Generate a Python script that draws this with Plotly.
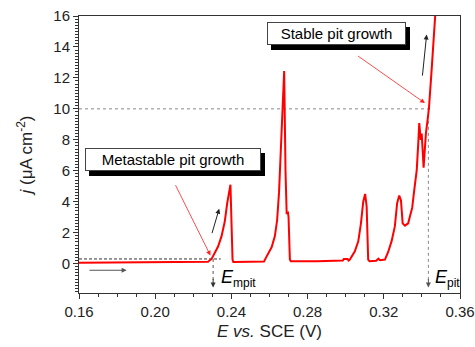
import plotly.graph_objects as go

# ---- data ----
E_V = [0.160, 0.180, 0.200, 0.220, 0.2277, 0.2296, 0.2313, 0.2330, 0.2348, 0.2365,
       0.2378, 0.2386, 0.2395, 0.2406, 0.2410, 0.2500, 0.2571, 0.2581, 0.2611, 0.2628,
       0.2640, 0.2650, 0.2660, 0.2677, 0.2684, 0.2690, 0.2697, 0.2700, 0.2707, 0.2712,
       0.2850, 0.2985, 0.2990, 0.3010, 0.3015, 0.3022, 0.3048, 0.3066, 0.3080, 0.3092,
       0.3102, 0.3110, 0.3118, 0.3125, 0.3160, 0.3172, 0.3180, 0.3206, 0.3223, 0.3241,
       0.3258, 0.3270, 0.3281, 0.3290, 0.3299, 0.3311, 0.3322, 0.3328, 0.3337, 0.3349,
       0.3360, 0.3373, 0.3381, 0.3386, 0.3394, 0.3399, 0.3409, 0.3421, 0.3430, 0.3437,
       0.3451, 0.3469, 0.3475]
j_uA = [0.05, 0.06, 0.07, 0.08, 0.12, 0.30, 0.69, 1.10, 1.76, 2.70,
        3.90, 4.56, 5.10, 0.26, 0.10, 0.12, 0.13, 0.37, 1.05, 1.76,
        2.80, 4.60, 7.50, 12.45, 6.00, 3.27, 3.30, 3.00, 0.26, 0.15,
        0.15, 0.20, 0.30, 0.30, 0.20, 0.26, 0.80, 1.44, 2.60, 4.00,
        4.50, 3.70, 0.26, 0.15, 0.18, 0.32, 0.22, 0.26, 0.75, 1.45,
        2.40, 3.90, 4.40, 4.10, 2.60, 2.45, 2.55, 2.60, 3.05, 3.60,
        4.77, 6.06, 7.80, 9.08, 8.00, 8.40, 6.20, 8.40, 9.30, 10.05,
        12.50, 16.06, 17.0]

E_mpit, j_mpit = 0.2304, 0.3
E_pit, j_pit = 0.3434, 10.0

x_tickvals = [0.16, 0.20, 0.24, 0.28, 0.32, 0.36]
x_ticktext = ["0.16", "0.20", "0.24", "0.28", "0.32", "0.36"]
y_tickvals = [0, 2, 4, 6, 8, 10, 12, 14, 16]
y_ticktext = ["0", "2", "4", "6", "8", "10", "12", "14", "16"]

FONT = "Liberation Sans, Arial, sans-serif"

fig = go.Figure()

# reference lines
fig.add_trace(go.Scatter(x=[0.16, E_mpit + 0.004], y=[j_mpit, j_mpit], mode="lines",
                         line=dict(color="#333333", width=1, dash="3px,2px"), hoverinfo="skip"))
fig.add_trace(go.Scatter(x=[E_mpit, E_mpit], y=[j_mpit, -1.45], mode="lines",
                         line=dict(color="#555555", width=1, dash="dot"), hoverinfo="skip"))
fig.add_trace(go.Scatter(x=[0.16, E_pit + 0.0024], y=[j_pit, j_pit], mode="lines",
                         line=dict(color="#888888", width=1, dash="dot"), hoverinfo="skip"))
fig.add_trace(go.Scatter(x=[E_pit, E_pit], y=[j_pit, -1.35], mode="lines",
                         line=dict(color="#888888", width=1, dash="dot"), hoverinfo="skip"))

# main curve
fig.add_trace(go.Scatter(x=E_V, y=j_uA, mode="lines",
                         line=dict(color="#ff0000", width=2), hoverinfo="skip"))

ann = []
# arrowheads at the bottom of the vertical dotted lines
for ex, col in [(E_mpit, "#333333"), (E_pit, "#555555")]:
    ann.append(dict(x=ex, y=-1.55, ax=ex, ay=-0.9, xref="x", yref="y", axref="x", ayref="y",
                    showarrow=True, arrowhead=2, arrowsize=1, arrowwidth=1, arrowcolor=col,
                    text="", standoff=0))
# black direction arrows
for (x0, y0, x1, y1, col) in [(0.1647, -0.43, 0.1850, -0.43, "#555555"),
                              (0.2296, 1.87, 0.2336, 3.55, "#222222"),
                              (0.3402, 12.05, 0.3425, 14.8, "#222222")]:
    ann.append(dict(x=x1, y=y1, ax=x0, ay=y0, xref="x", yref="y", axref="x", ayref="y",
                    showarrow=True, arrowhead=2, arrowsize=1, arrowwidth=1, arrowcolor=col,
                    text="", standoff=0))
# red pointer arrows
for (x0, y0, x1, y1) in [(0.2103, 5.16, 0.2290, 0.52), (0.3057, 13.48, 0.3416, 10.37)]:
    ann.append(dict(x=x1, y=y1, ax=x0, ay=y0, xref="x", yref="y", axref="x", ayref="y",
                    showarrow=True, arrowhead=2, arrowsize=1.2, arrowwidth=0.8, arrowcolor="#ff2020",
                    text="", standoff=0))

# text boxes with shadows
for (txt, cx, cy, w) in [("Metastable pit growth", 0.2092, 6.71, 172),
                         ("Stable pit growth", 0.2951, 14.9, 135)]:
    ann.append(dict(x=cx, y=cy, xref="x", yref="y", text=txt, showarrow=False,
                    font=dict(family=FONT, size=15, color="black"),
                    bgcolor="black", bordercolor="black", borderwidth=1, borderpad=1,
                    width=w, height=19, xshift=4, yshift=-5))
    ann.append(dict(x=cx, y=cy, xref="x", yref="y", text=txt, showarrow=False,
                    font=dict(family=FONT, size=15, color="black"),
                    bgcolor="white", bordercolor="#444444", borderwidth=1, borderpad=1,
                    width=w, height=19))

# E labels
ann.append(dict(x=0.2334, y=-0.95, xref="x", yref="y", xanchor="left", yanchor="middle",
                text="<i>E</i><sub><span style='font-size:12px'>mpit</span></sub>", showarrow=False,
                font=dict(family=FONT, size=18, color="black")))
ann.append(dict(x=0.3458, y=-0.95, xref="x", yref="y", xanchor="left", yanchor="middle",
                text="<i>E</i><sub><span style='font-size:12px'>pit</span></sub>", showarrow=False,
                font=dict(family=FONT, size=18, color="black")))

fig.update_layout(
    width=475, height=347,
    margin=dict(l=79, r=15, t=16, b=54),
    paper_bgcolor="white", plot_bgcolor="white",
    showlegend=False,
    font=dict(family=FONT, size=14, color="#222222"),
    annotations=ann,
    xaxis=dict(range=[0.16, 0.36], tickvals=x_tickvals, ticktext=x_ticktext,
               ticks="outside", ticklen=5, tickwidth=1, tickcolor="#333333",
               minor=dict(dtick=0.01, ticks="outside", ticklen=3, tickcolor="#333333"),
               showline=True, linecolor="#333333", linewidth=1, mirror=True,
               showgrid=False, zeroline=False, automargin=False, ticklabeloverflow="allow",
               tickfont=dict(size=15, color="#222222"),
               title=dict(text="<i>E vs.</i> SCE (V)", font=dict(size=17, color="#222222"),
                          standoff=6)),
    yaxis=dict(range=[-1.9, 16], tickvals=y_tickvals, ticktext=y_ticktext,
               ticks="outside", ticklen=5, tickwidth=1, tickcolor="#333333",
               minor=dict(dtick=0.2, ticks="outside", ticklen=3, tickcolor="#333333"),
               showline=True, linecolor="#333333", linewidth=1, mirror=True,
               showgrid=False, zeroline=False, automargin=False, ticklabeloverflow="allow",
               tickfont=dict(size=15, color="#222222"),
               title=dict(text="<i>j</i> (μA cm<sup>-2</sup>)", font=dict(size=17, color="#222222"),
                          standoff=16)),
)

# remove the default 8 px page margin so the figure fills the window exactly
fig.write_html("out.html", config={"displayModeBar": False},
               post_script="document.body.style.margin='0px';document.body.style.overflow='hidden';")
